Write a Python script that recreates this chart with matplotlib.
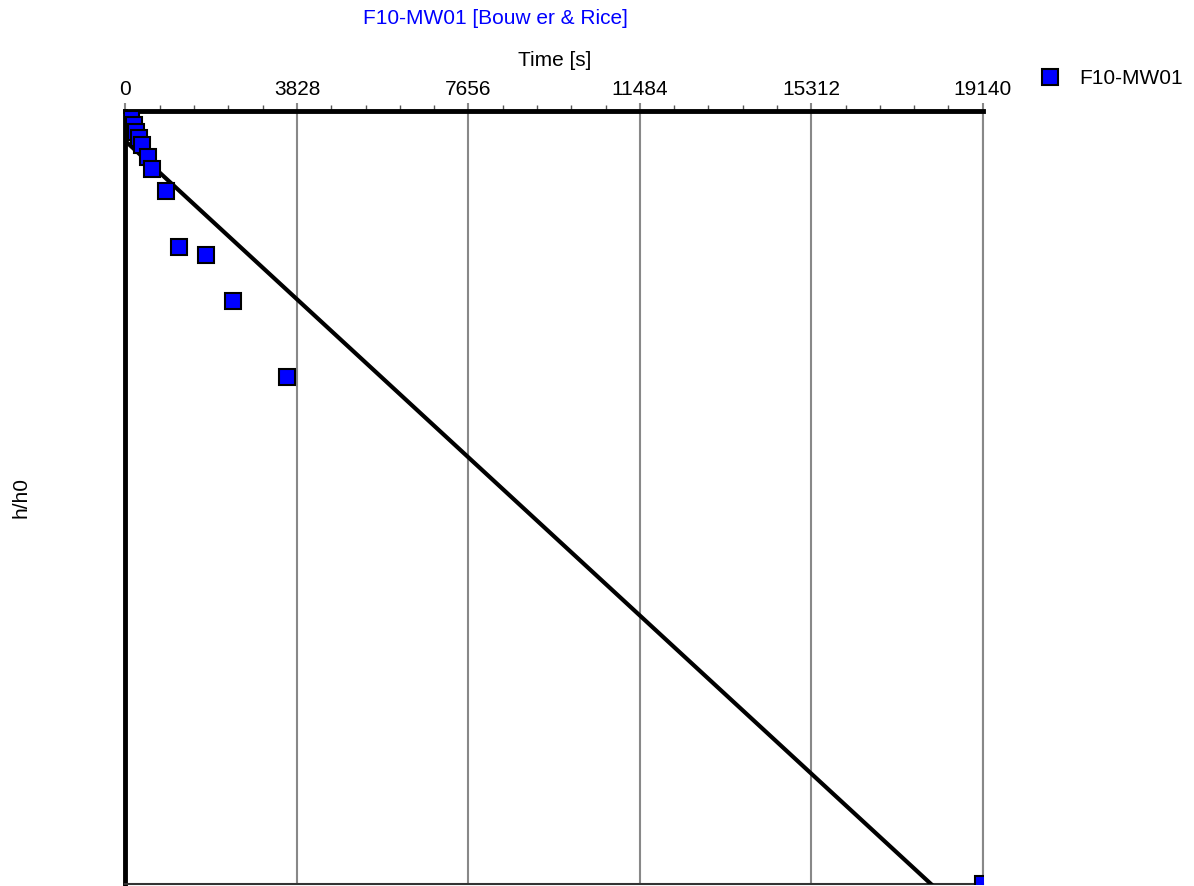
import numpy as np
import matplotlib.pyplot as plt
from matplotlib.ticker import MultipleLocator, NullLocator

plt.rcParams['font.family'] = ['Liberation Sans', 'DejaVu Sans']

# observed recovery (time in s, normalised head)
time_s = [0, 60, 120, 180, 240, 300, 360, 500, 585, 900, 1200, 1800, 2400, 3600, 19140]
h_h0 = [1.0, 0.977, 0.952, 0.92, 0.881, 0.85, 0.817, 0.761, 0.708, 0.621, 0.444,
        0.424, 0.322, 0.205, 0.01]

# Bouwer & Rice straight-line fit (end points)
fit_t = [0, 17995]
fit_h = [0.836, 0.01]

x_max = 19140
x_step = 3828

fig = plt.figure(figsize=(11.94, 8.86), dpi=100)
ax = fig.add_axes([0.1051, 0.0017, 0.718, 0.873])

ax.set_yscale('log')
ax.set_ylim(0.01, 1.0)
ax.set_xlim(0, x_max)

ax.plot(fit_t, fit_h, color='black', lw=3, zorder=3)
ax.plot(time_s, h_h0, ls='none', marker='s', ms=11.5, mfc='#0000ff', mec='black',
        mew=1.5, zorder=4, label='F10-MW01')

# x axis on top
ax.xaxis.tick_top()
ax.xaxis.set_major_locator(MultipleLocator(x_step))
ax.xaxis.set_minor_locator(MultipleLocator(x_step / 5))
ax.tick_params(axis='x', which='major', length=6, width=1.5, color='#888888',
               labelsize=15, pad=2.5)
ax.tick_params(axis='x', which='minor', length=4.3, width=1, color='#555555')
ax.grid(axis='x', which='major', color='#888888', lw=1.5)
ax.yaxis.set_major_locator(NullLocator())
ax.yaxis.set_minor_locator(NullLocator())
ax.tick_params(axis='y', which='both', left=False, labelleft=False)

ax.spines['top'].set_linewidth(3.5)
ax.spines['top'].set_color('black')
ax.spines['left'].set_linewidth(3.5)
ax.spines['left'].set_color('black')
ax.spines['bottom'].set_linewidth(1.5)
ax.spines['bottom'].set_color('#333333')
ax.spines['right'].set_linewidth(1.5)
ax.spines['right'].set_color('#888888')

fig.text(495 / 1194, 1 - 19 / 886, 'F10-MW01 [Bouw er & Rice]', color='#0000ff',
         fontsize=15, ha='center', va='center')
fig.text(555 / 1194, 1 - 60 / 886, 'Time [s]', fontsize=15, ha='center', va='center')
fig.text(21.5 / 1194, 1 - 497 / 886, 'h/h0', fontsize=15, ha='center', va='center',
         rotation=90)

ax.legend(loc='center left', bbox_to_anchor=(1029 / 1194, 1 - 79 / 886),
          bbox_transform=fig.transFigure, frameon=False, fontsize=15,
          handletextpad=0.4, borderaxespad=0, borderpad=0, markerscale=0.95)

fig.savefig('out.png', dpi=100)
